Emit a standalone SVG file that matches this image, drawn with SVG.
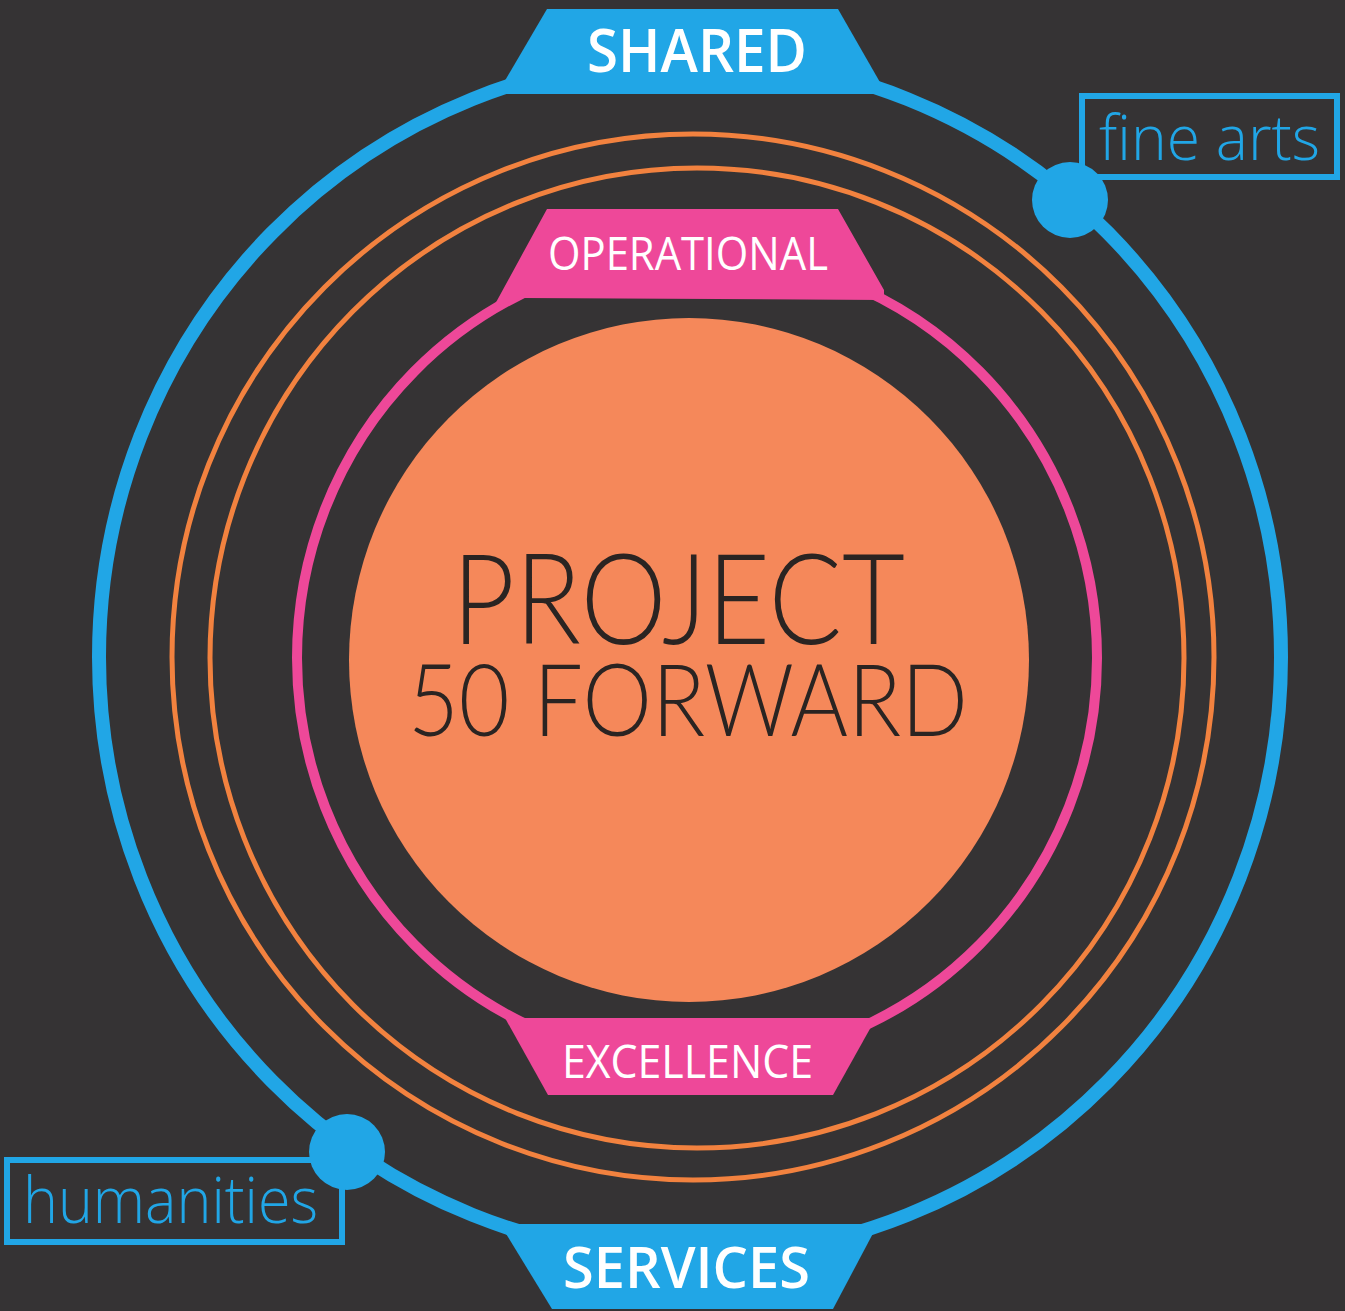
<svg xmlns="http://www.w3.org/2000/svg" width="1345" height="1311" viewBox="0 0 1345 1311">
<style>
.blue{fill:#21a6e6}
.pink{fill:#ee4899}
.ringb{fill:none;stroke:#21a6e6;stroke-width:14}
.ringo{fill:none;stroke:#f2823f;stroke-width:5}
.ringp{fill:none;stroke:#ee4899;stroke-width:10}
.box{fill:none;stroke:#21a6e6;stroke-width:6}
.wt{fill:#ffffff;font-family:"Open Sans","Noto Sans","Liberation Sans",sans-serif}
.lt{font-family:"Open Sans","Noto Sans","Liberation Sans",sans-serif;font-weight:300}
.ct{font-family:Lato,"Open Sans","Liberation Sans",sans-serif;font-weight:300;fill:#2a2422}
</style>
<rect width="1345" height="1311" fill="#353334"/>
<g id="rings">
<ellipse class="ringb" cx="690" cy="657" rx="591" ry="600"/>
<ellipse class="ringo" cx="693" cy="657" rx="521" ry="523"/>
<ellipse class="ringo" cx="697" cy="658" rx="487" ry="490"/>
<ellipse class="ringp" cx="697" cy="658" rx="400" ry="405"/>
</g>
<g id="center">
<ellipse cx="689" cy="660" rx="340" ry="342" fill="#f5885a"/>
<text class="ct" x="452" y="644" font-size="126" textLength="453" lengthAdjust="spacingAndGlyphs">PROJECT</text>
<text class="ct" x="408" y="736" font-size="100" textLength="560" lengthAdjust="spacingAndGlyphs">50 FORWARD</text>
</g>
<g id="shared">
<polygon class="blue" points="547,9 838,9 881,84 881,94 503,94 503,84"/>
<text class="wt" x="587" y="72" font-size="59" font-weight="600" textLength="220" lengthAdjust="spacingAndGlyphs">SHARED</text>
</g>
<g id="operational">
<polygon class="pink" points="547,209 838,209 884,290 884,300 523,298 494,306"/>
<text class="wt" x="548" y="270" font-size="46" textLength="280" lengthAdjust="spacingAndGlyphs">OPERATIONAL</text>
</g>
<g id="excellence">
<polygon class="pink" points="505,1018 876,1018 833,1095 548,1095"/>
<text class="wt" x="562" y="1078" font-size="46" textLength="251" lengthAdjust="spacingAndGlyphs">EXCELLENCE</text>
</g>
<g id="services">
<polygon class="blue" points="500,1224 878,1224 833,1309 552,1309"/>
<text class="wt" x="563" y="1288" font-size="58" font-weight="600" textLength="247" lengthAdjust="spacingAndGlyphs">SERVICES</text>
</g>
<g id="fine-arts">
<rect class="box" x="1082" y="96" width="255" height="81"/>
<circle class="blue" cx="1070" cy="200" r="38"/>
<text class="lt" x="1099" y="160" font-size="62" fill="#21a6e6" textLength="221" lengthAdjust="spacingAndGlyphs">fine arts</text>
</g>
<g id="humanities">
<rect class="box" x="7" y="1160" width="335" height="82"/>
<circle class="blue" cx="347" cy="1152" r="38"/>
<text class="lt" x="23" y="1223" font-size="64" fill="#21a6e6" textLength="295" lengthAdjust="spacingAndGlyphs">humanities</text>
</g>
</svg>
